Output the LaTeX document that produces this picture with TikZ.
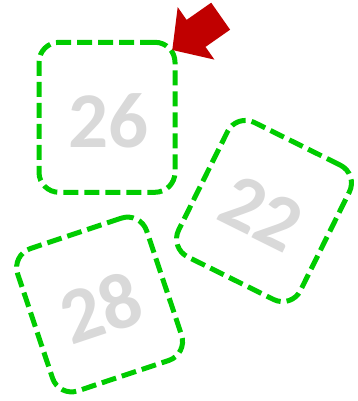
\documentclass[tikz,border=0pt]{standalone}
\usepackage{fontspec}
\setmainfont{Carlito}
\definecolor{boxgreen}{RGB}{0,204,0}
\definecolor{numgray}{RGB}{217,217,217}
\definecolor{arrowred}{RGB}{192,0,0}
\tikzset{
  card/.style={draw=boxgreen, line width=5pt, dash pattern=on 15pt off 6pt,
    rounded corners=20pt, minimum width=136pt, minimum height=150pt,
    inner sep=0pt, outer sep=0pt},
  num/.style={text=numgray, font=\fontsize{79}{79}\selectfont\bfseries,
    inner sep=0pt, outer sep=0pt}
}
\begin{document}
\begin{tikzpicture}[x=1pt,y=-1pt]
\useasboundingbox (0,0) rectangle (357,401);
% cards
\node[card] (b26) at (107,117.3) {};
\node[card, rotate=-26.4] (b22) at (264,211) {};
\node[card, rotate=18.5] (b28) at (99.6,304.5) {};
% numbers
\node[num] (t26) at (108.3,121.3) {26};
\node[num, rotate=-26.4] (t22) at (261.5,213) {22};
\node[num, rotate=18.5] (t28) at (100.8,307.5) {28};
% arrow
\coordinate (tip) at (172.3,50);
\fill[arrowred] (tip) -- (177.7,7.1) -- (186.6,19.9) -- (211.2,2.7)
  -- (230.1,29.7) -- (205.5,46.9) -- (214.4,59.6) -- cycle;
\end{tikzpicture}
\end{document}
